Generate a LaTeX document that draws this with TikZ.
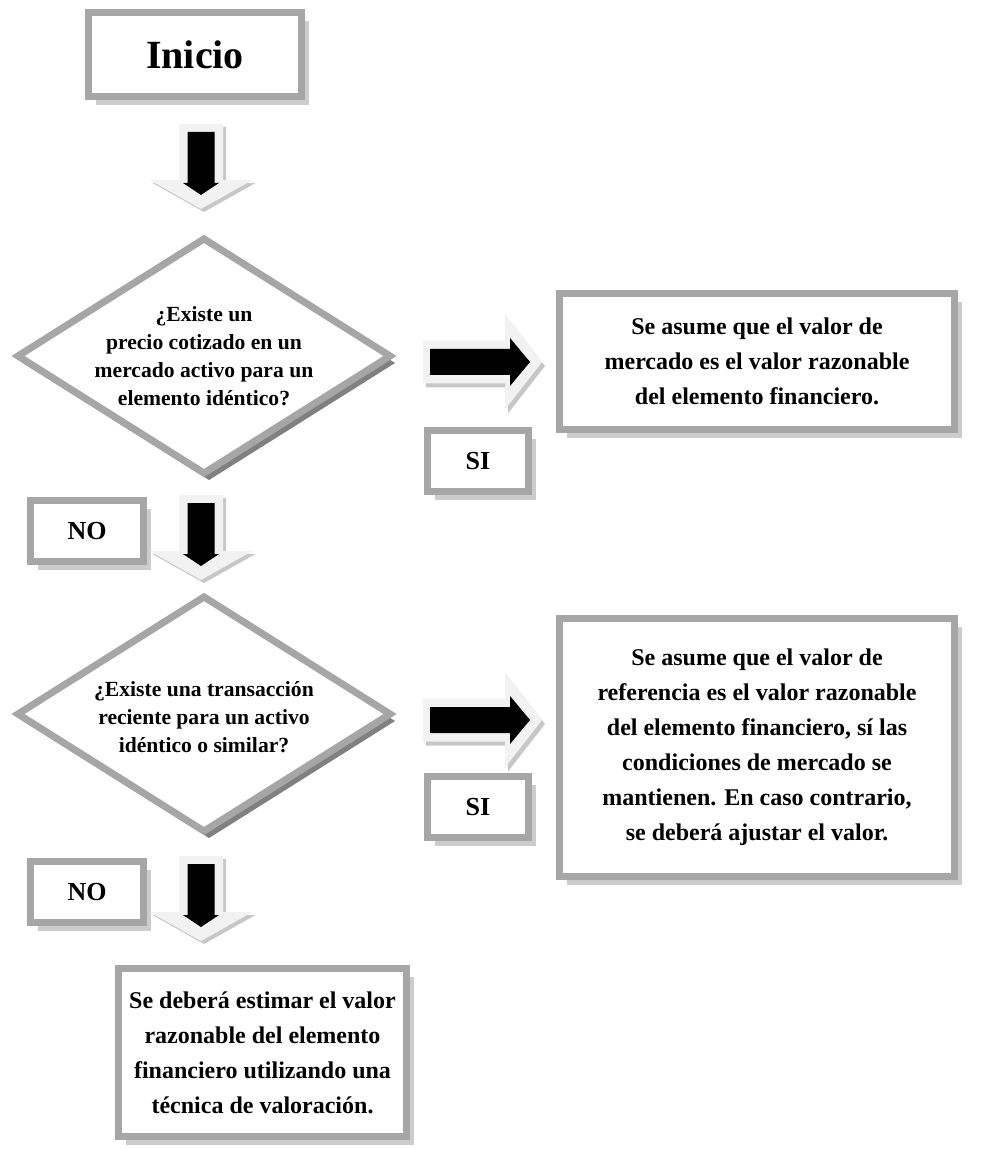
\documentclass[tikz,border=0pt]{standalone}
\usepackage{fontspec}
\setmainfont{Liberation Serif}
\usetikzlibrary{shapes.geometric,shadows}

\tikzset{
  box/.style={draw=black!35, line width=3.5pt, fill=white, inner sep=0pt, align=center,
    font=\fontsize{12}{17.5}\selectfont\bfseries,
    general shadow={fill=black!20, shadow xshift=3.5pt, shadow yshift=-4.25pt}},
  tag/.style={box, font=\fontsize{13}{15}\selectfont\bfseries, minimum width=50.5pt, minimum height=30.5pt},
  question/.style={diamond, draw=black!35, line width=3.5pt, fill=white, inner sep=0pt,
    minimum width=187.5pt, minimum height=118.5pt,
    general shadow={fill=black!50, shadow xshift=2.5pt, shadow yshift=-3.5pt}},
  qtext/.style={align=center, font=\fontsize{10.8}{14}\selectfont\bfseries},
  % block arrows: light outer arrow, grey shade, black inner arrow
  pics/downarrow/.style={code={
    \foreach \dx/\dy/\col in {3/3/black!22, 0/0/black!5} {
      \fill[\col, shift={(\dx,\dy)}] (-22,0) -- (22,0) -- (22,56) -- (51.5,56) -- (0,85)
        -- (-51.5,56) -- (-22,56) -- cycle;
    }
    \fill[black] (-13.5,8) -- (13.5,8) -- (13.5,59) -- (18,59) -- (0,71) -- (-18,59) -- (-13.5,59) -- cycle;
  }},
  pics/rightarrow/.style={code={
    \foreach \dx/\dy/\col in {3/4/black!22, 0/0/black!5} {
      \fill[\col, shift={(\dx,\dy)}] (0,-21.5) -- (82,-21.5) -- (82,-47.5) -- (119,0)
        -- (82,47.5) -- (82,21.5) -- (0,21.5) -- cycle;
    }
    \fill[black] (7,-13) -- (87,-13) -- (87,-24) -- (107,0) -- (87,24) -- (87,13) -- (7,13) -- cycle;
  }}
}

\begin{document}
\begin{tikzpicture}[x=0.5pt, y=-0.5pt]
  \useasboundingbox (0,0) rectangle (984,1149);

  % Start
  \node[box, font=\fontsize{20}{24}\selectfont\bfseries, minimum width=106.5pt, minimum height=42pt] (start) at (195,54.5) {Inicio};
  \pic (arr1) at (201,124) {downarrow};

  % First question
  \node[question] (q1) at (204,356) {};
  \node[qtext] (q1text) at (q1) {¿Existe un\\precio cotizado en un\\mercado activo para un\\elemento idéntico?};
  \pic (yes1) at (423,362) {rightarrow};
  \node[box, minimum width=197.5pt, minimum height=68pt] (res1) at (757,361.5) {Se asume que el valor de\\mercado es el valor razonable\\del elemento financiero.};
  \node[tag] (si1) at (478,461) {SI};
  \node[tag, minimum width=56.5pt] (no1) at (87,531) {NO};
  \pic (arr2) at (201,495) {downarrow};

  % Second question
  \node[question] (q2) at (204,714) {};
  \node[qtext] (q2text) at (204,717) {¿Existe una transacción\\reciente para un activo\\idéntico o similar?};
  \pic (yes2) at (423,720) {rightarrow};
  \node[box, minimum width=197.5pt, minimum height=129pt] (res2) at (757,747.5) {Se asume que el valor de\\referencia es el valor razonable\\del elemento financiero, sí las\\condiciones de mercado se\\mantienen. En caso contrario,\\se deberá ajustar el valor.};
  \node[tag] (si2) at (478,807) {SI};
  \node[tag, minimum width=56.5pt] (no2) at (87,892) {NO};
  \pic (arr3) at (201,856) {downarrow};

  % End
  \node[box, minimum width=144pt, minimum height=84pt] (end) at (262.5,1052.5) {Se deberá estimar el valor\\razonable del elemento\\financiero utilizando una\\técnica de valoración.};
\end{tikzpicture}
\end{document}
